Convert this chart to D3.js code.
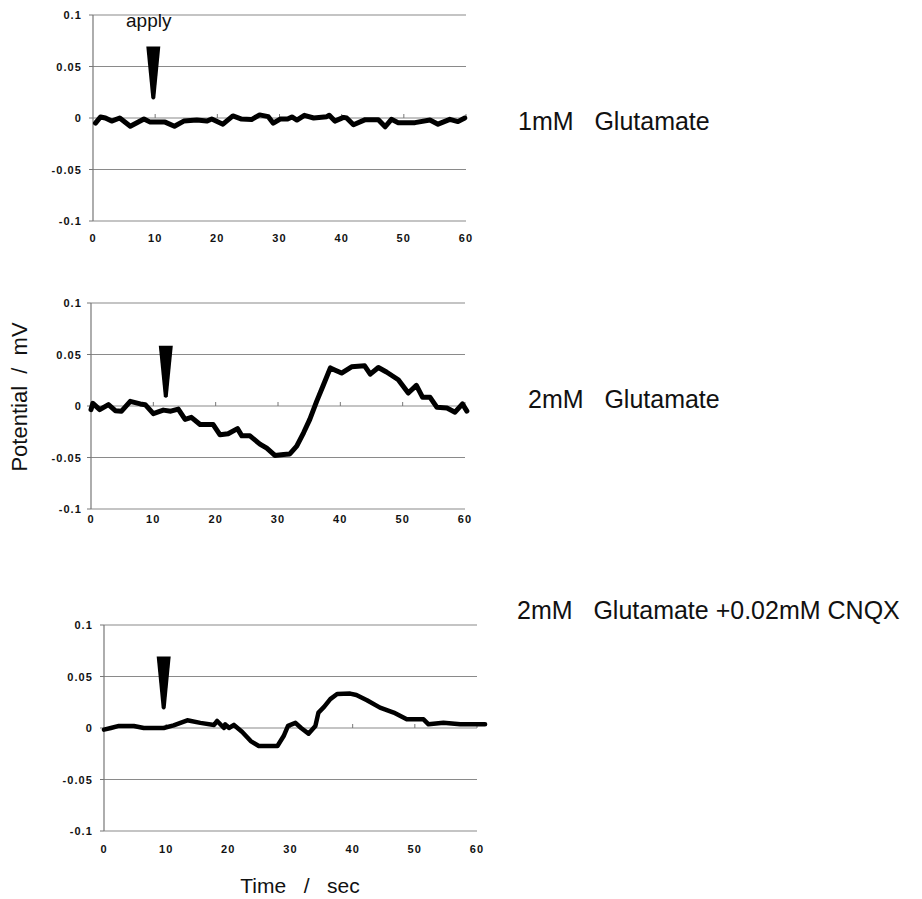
<!DOCTYPE html>
<head>
	<script src="https://d3js.org/d3.v7.min.js"></script>
	<style>
		body { margin: 0; background: #fff; }
		text { font-family: "Liberation Sans", Arial, sans-serif; }
	</style>
</head>
<body>
	<script type="text/javascript">
		var width = 922;
		var height = 899;

		// tick values shared by the three panels
		var yTicks = [0.1, 0.05, 0, -0.05, -0.1];
		var yTickLabels = ["0.1", "0.05", "0", "-0.05", "-0.1"];
		var xTicks = [0, 10, 20, 30, 40, 50, 60];

		// condition labels, one per panel
		var conditions = ["1mM   Glutamate", "2mM   Glutamate", "2mM   Glutamate +0.02mM CNQX"];

		// time of the "apply" marker in each panel (sec)
		var applyTimes = [9.7, 12, 9.6];

		// traces: [time sec, potential mV]
		var trace1 = [
			[0.4, -0.005], [1.2, 0.001], [2, 0], [3, -0.003], [4.3, 0], [6, -0.008],
			[8.2, -0.001], [9.2, -0.004], [11.6, -0.004], [13.1, -0.008], [14.6, -0.003],
			[16.7, -0.002], [18.3, -0.003], [19.1, -0.001], [20.9, -0.006], [22.5, 0.002],
			[23.9, -0.001], [25.5, -0.0015], [26.8, 0.003], [28.2, 0.0013], [29, -0.005],
			[30.1, -0.001], [31.3, -0.001], [32, 0.001], [32.8, -0.002], [34, 0.0026],
			[35.5, 0], [37.6, 0.0013], [38, 0.0026], [38.9, -0.003], [40.3, 0.0006],
			[40.8, 0], [41.9, -0.0065], [43.8, -0.0016], [45.9, -0.0016], [47, -0.0085],
			[48, -0.0013], [49.1, -0.0045], [51.8, -0.0045], [54.2, -0.002], [55.5, -0.006],
			[57.4, -0.0013], [58.7, -0.0035], [59.8, 0]
		];
		var trace2 = [
			[0, -0.0035], [0.3, 0.0026], [1.4, -0.0035], [2.8, 0.0013], [3.9, -0.0045],
			[4.9, -0.005], [6.3, 0.0045], [7.9, 0.002], [8.7, 0.0013], [10, -0.0074],
			[11.6, -0.004], [12.8, -0.005], [14, -0.003], [15.1, -0.013], [16.1, -0.011],
			[17.5, -0.018], [19.6, -0.018], [20.7, -0.028], [22, -0.027], [23.5, -0.022],
			[24.2, -0.029], [25.5, -0.029], [27.1, -0.037], [28.2, -0.041], [29.5, -0.048],
			[30.9, -0.047], [31.9, -0.0465], [33, -0.039], [34.1, -0.026], [35.1, -0.013],
			[36.2, 0.0045], [37.3, 0.0206], [38.4, 0.037], [39.1, 0.035], [40.2, 0.032],
			[41.8, 0.038], [43.9, 0.039], [44.8, 0.031], [46.1, 0.0374], [47.4, 0.033],
			[49.3, 0.0255], [50.9, 0.0126], [52.2, 0.02], [53.2, 0.0084], [54.4, 0.0084],
			[55.5, -0.0013], [57.1, -0.002], [58.4, -0.006], [59.6, 0.002], [60.3, -0.005]
		];
		var trace3 = [
			[0, -0.0016], [1.1, 0], [2.4, 0.002], [4.8, 0.002], [6.4, 0], [9.6, 0],
			[11.2, 0.0026], [13.4, 0.0075], [15.5, 0.005], [17.7, 0.003], [18.2, 0.0068],
			[19.3, 0], [19.5, 0.0036], [20.1, 0], [20.9, 0.003], [22.2, -0.0036],
			[23.6, -0.0127], [24.9, -0.0175], [27.9, -0.0175], [28.9, -0.0078], [29.6, 0.002],
			[30.8, 0.005], [31.7, 0], [32.9, -0.0055], [34, 0.002], [34.5, 0.015],
			[35.4, 0.0205], [36.4, 0.028], [37.5, 0.033], [39.6, 0.0334], [40.6, 0.032],
			[42.3, 0.027], [44.4, 0.0198], [46.6, 0.015], [48.7, 0.0084], [51.4, 0.0084],
			[52.2, 0.0036], [54.6, 0.005], [57.3, 0.0036], [61.3, 0.0036]
		];

		// where each panel sits on the page
		var panels = [
			{ trace: trace1, left: 93, right: 466, top: 15, bottom: 221, lw: 5, labelX: 518, labelY: 130, yLabelX: 82, xLabelY: 242 },
			{ trace: trace2, left: 91, right: 465, top: 303, bottom: 509, lw: 5, labelX: 528, labelY: 408, yLabelX: 82, xLabelY: 523 },
			{ trace: trace3, left: 104, right: 477, top: 625, bottom: 831, lw: 4.5, labelX: 517, labelY: 619, yLabelX: 93, xLabelY: 853 }
		];

		var svg = d3.select('body').append('svg')
			.attr('width', width)
			.attr('height', height);

		panels.forEach(function(p, i) {
			var x = d3.scaleLinear().domain([0, 60]).range([p.left, p.right]);
			var y = d3.scaleLinear().domain([-0.1, 0.1]).range([p.bottom, p.top]);
			var g = svg.append('g');

			// horizontal gridlines
			g.selectAll('line.grid')
				.data(yTicks)
				.enter()
				.append('line')
				.attr('x1', p.left)
				.attr('x2', p.right)
				.attr('y1', function(d) { return y(d); })
				.attr('y2', function(d) { return y(d); })
				.attr('stroke', '#8a8a8a')
				.attr('stroke-width', 1.2);

			// vertical axis with little ticks on the left
			g.append('line')
				.attr('x1', p.left).attr('x2', p.left)
				.attr('y1', p.top).attr('y2', p.bottom)
				.attr('stroke', '#777').attr('stroke-width', 1.2);
			g.selectAll('line.ytick')
				.data(yTicks)
				.enter()
				.append('line')
				.attr('x1', p.left - 4).attr('x2', p.left)
				.attr('y1', function(d) { return y(d); })
				.attr('y2', function(d) { return y(d); })
				.attr('stroke', '#777');

			// x ticks sit on the zero line
			g.selectAll('line.xtick')
				.data(xTicks.slice(1))
				.enter()
				.append('line')
				.attr('x1', function(d) { return x(d); })
				.attr('x2', function(d) { return x(d); })
				.attr('y1', y(0) - 4).attr('y2', y(0))
				.attr('stroke', '#777');

			// tick labels
			g.selectAll('text.ylab')
				.data(yTicks)
				.enter()
				.append('text')
				.attr('x', p.yLabelX)
				.attr('y', function(d) { return y(d) + 4; })
				.attr('text-anchor', 'end')
				.attr('font-size', 11)
				.attr('font-weight', 'bold')
				.attr('letter-spacing', 1.1)
				.attr('fill', '#111')
				.text(function(d, j) { return yTickLabels[j]; });

			g.selectAll('text.xlab')
				.data(xTicks)
				.enter()
				.append('text')
				.attr('x', function(d) { return x(d); })
				.attr('y', p.xLabelY)
				.attr('text-anchor', 'middle')
				.attr('font-size', 11)
				.attr('font-weight', 'bold')
				.attr('letter-spacing', 1.1)
				.attr('fill', '#111')
				.text(function(d) { return d; });

			// the trace
			var line = d3.line()
				.x(function(d) { return x(d[0]); })
				.y(function(d) { return y(d[1]); });
			g.append('path')
				.datum(p.trace)
				.attr('d', line)
				.attr('fill', 'none')
				.attr('stroke', '#000')
				.attr('stroke-width', p.lw)
				.attr('stroke-linejoin', 'round')
				.attr('stroke-linecap', 'round');

			// "apply" wedge
			var ax = x(applyTimes[i]);
			var topY = y(0.0585 + (i === 1 ? 0 : 0.011));
			var tipY = y(0.0175 - (i === 1 ? 0.01 : 0));
			g.append('path')
				.attr('d', 'M' + (ax - 7) + ',' + topY + 'L' + (ax + 7) + ',' + topY +
					'L' + (ax + 2) + ',' + (tipY - 2) + 'Q' + ax + ',' + (tipY + 1) + ' ' + (ax - 2) + ',' + (tipY - 2) + 'Z')
				.attr('fill', '#000');

			// condition label on the right
			svg.append('text')
				.attr('x', p.labelX)
				.attr('y', p.labelY)
				.attr('font-size', 25)
				.attr('fill', '#111')
				.style('white-space', 'pre')
				.text(conditions[i]);
		});

		svg.append('text')
			.attr('x', 126)
			.attr('y', 27)
			.attr('font-size', 19)
			.attr('fill', '#111')
			.text('apply');

		svg.append('text')
			.attr('transform', 'translate(27,397) rotate(-90)')
			.attr('text-anchor', 'middle')
			.attr('font-size', 22)
			.attr('fill', '#111')
			.style('white-space', 'pre')
			.text('Potential  /  mV');

		svg.append('text')
			.attr('x', 300)
			.attr('y', 893)
			.attr('text-anchor', 'middle')
			.attr('font-size', 21)
			.attr('fill', '#111')
			.style('white-space', 'pre')
			.text('Time   /   sec');
	</script>
</body>
